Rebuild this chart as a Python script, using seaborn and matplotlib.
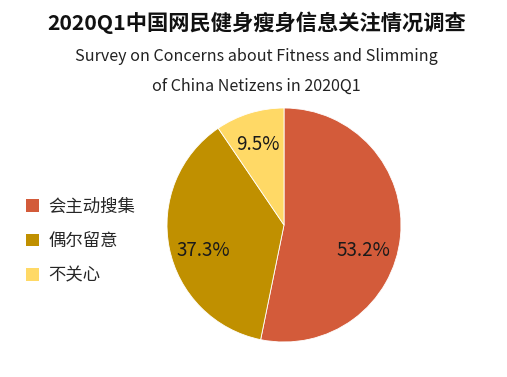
import matplotlib
matplotlib.use("Agg")
import matplotlib.pyplot as plt
import seaborn as sns
from matplotlib.patches import Patch

categories = ["会主动搜集", "偶尔留意", "不关心"]
values = [53.2, 37.3, 9.5]
colors = ["#D35B3A", "#C09000", "#FFD966"]
title = "2020Q1中国网民健身瘦身信息关注情况调查"
subtitle = "Survey on Concerns about Fitness and Slimming\nof China Netizens in 2020Q1"

sns.set_theme(style="white")
plt.rcParams['font.family'] = ['Noto Sans CJK SC', 'DejaVu Sans']

W, H = 507, 377
fig = plt.figure(figsize=(W/100, H/100), dpi=100)
fig.patch.set_facecolor("white")

cx, cy, r = 284, 225, 117
ax = fig.add_axes([(cx - r)/W, (H - cy - r)/H, 2*r/W, 2*r/H])
pal = sns.color_palette(colors)
wedges, texts, autotexts = ax.pie(values, colors=pal, startangle=90, counterclock=False,
                                  autopct=lambda p: f"{p:.1f}%", pctdistance=0.71,
                                  wedgeprops=dict(linewidth=0.6, edgecolor="white"),
                                  textprops=dict(fontsize=13.5, color="#1a1a1a", fontweight="light"))
ax.set_xlim(-1, 1)
ax.set_ylim(-1, 1)
ax.set_aspect("equal")
# nudge label positions to match reference
autotexts[0].set_position((0.675, -0.215))
autotexts[1].set_position((-0.69, -0.215))
autotexts[2].set_position((-0.22, 0.685))

fig.text(0.507, 1 - 23/H, title, ha="center", va="center", fontsize=15.3, fontweight="bold", color="#111111")
fig.text(0.506, 1 - 71.5/H, subtitle, ha="center", va="center", fontsize=11.6, color="#222222",
         fontweight="light", linespacing=1.95)

handles = [Patch(facecolor=c, edgecolor="none") for c in colors]
fig.legend(handles, categories, loc="center left", bbox_to_anchor=(0.035, 1 - 241/H),
           frameon=False, fontsize=12.5, handlelength=0.75, handleheight=0.75,
           handletextpad=0.5, labelspacing=0.95, borderpad=0)

fig.savefig("out.png", dpi=100, facecolor="white")
